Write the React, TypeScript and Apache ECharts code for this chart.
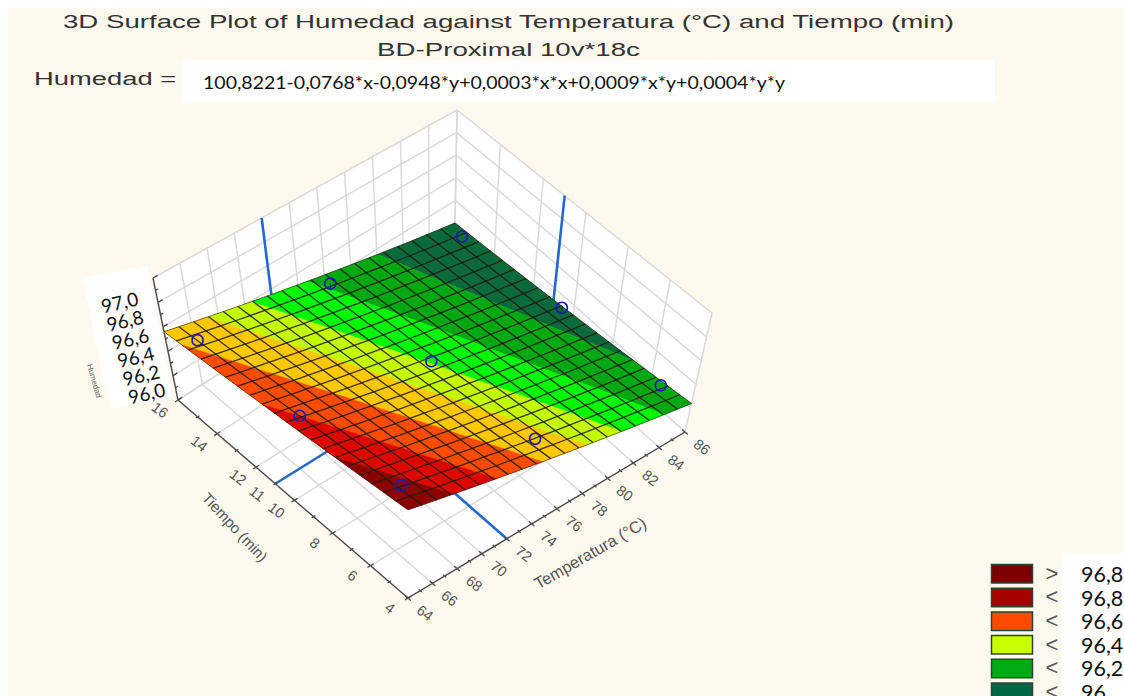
import React, { useEffect, useRef } from "react";
import * as echarts from "echarts";

const titleLines = ["3D Surface Plot of Humedad against Temperatura (°C) and Tiempo (min)", "BD-Proximal 10v*18c"];
const equationLabel = "Humedad =";
const equationText = "100,8221-0,0768*x-0,0948*y+0,0003*x*x+0,0009*x*y+0,0004*y*y";

const temperaturaTicks = [64, 66, 68, 70, 72, 74, 76, 78, 80, 82, 84, 86];
const temperaturaMinor = [65, 67, 69, 71, 73, 75, 77, 79, 81, 83, 85];
const tiempoTicks = [4, 6, 8, 10, 12, 14, 16];
const tiempoLabels = [4, 6, 8, 10, 11, 12, 14, 16];
const tiempoMinor = [5, 7, 9, 11, 13, 15];
const humedadTicks = [96.0, 96.2, 96.4, 96.6, 96.8, 97.0];
const humedadMinor = [96.1, 96.3, 96.5, 96.7, 96.9];
const humedadTickLabels = ["97,0", "96,8", "96,6", "96,4", "96,2", "96,0"];

const temperaturaGrid = [64, 65.1, 66.2, 67.3, 68.4, 69.5, 70.6, 71.7, 72.8, 73.9, 75, 76.1, 77.2, 78.3, 79.4, 80.5, 81.6, 82.7, 83.8, 84.9, 86];
const tiempoGrid = [4, 4.6, 5.2, 5.8, 6.4, 7, 7.6, 8.2, 8.8, 9.4, 10, 10.6, 11.2, 11.8, 12.4, 13, 13.6, 14.2, 14.8, 15.4, 16];

// Humedad: one row per Tiempo, one column per Temperatura.
const humedadColour = [
  [96.993,96.955,96.918,96.882,96.846,96.811,96.777,96.743,96.710,96.678,96.647,96.616,96.586,96.557,96.529,96.501,96.474,96.447,96.422,96.397,96.373],
  [96.973,96.936,96.899,96.863,96.828,96.794,96.760,96.727,96.695,96.663,96.633,96.602,96.573,96.545,96.517,96.489,96.463,96.437,96.412,96.388,96.365],
  [96.953,96.916,96.880,96.845,96.811,96.777,96.744,96.711,96.680,96.649,96.619,96.589,96.560,96.532,96.505,96.478,96.453,96.428,96.403,96.379,96.356],
  [96.933,96.897,96.862,96.827,96.793,96.760,96.728,96.696,96.665,96.634,96.605,96.576,96.548,96.520,96.494,96.468,96.442,96.418,96.394,96.371,96.349],
  [96.914,96.879,96.844,96.810,96.776,96.744,96.712,96.680,96.650,96.620,96.591,96.563,96.535,96.509,96.483,96.457,96.433,96.409,96.385,96.363,96.341],
  [96.895,96.860,96.826,96.792,96.760,96.727,96.696,96.666,96.636,96.607,96.578,96.550,96.523,96.497,96.472,96.447,96.423,96.400,96.377,96.355,96.334],
  [96.876,96.842,96.808,96.775,96.743,96.712,96.681,96.651,96.622,96.593,96.565,96.538,96.512,96.486,96.461,96.437,96.414,96.391,96.369,96.348,96.327],
  [96.858,96.824,96.791,96.758,96.727,96.696,96.666,96.637,96.608,96.580,96.553,96.526,96.500,96.475,96.451,96.427,96.405,96.382,96.361,96.340,96.320],
  [96.839,96.806,96.774,96.742,96.711,96.681,96.651,96.622,96.594,96.567,96.540,96.514,96.489,96.465,96.441,96.418,96.396,96.374,96.353,96.333,96.314],
  [96.821,96.789,96.757,96.726,96.696,96.666,96.637,96.609,96.581,96.554,96.528,96.503,96.478,96.455,96.431,96.409,96.387,96.366,96.346,96.327,96.308],
  [96.804,96.772,96.741,96.710,96.680,96.651,96.623,96.595,96.568,96.542,96.517,96.492,96.468,96.445,96.422,96.400,96.379,96.359,96.339,96.320,96.302],
  [96.786,96.755,96.724,96.694,96.665,96.637,96.609,96.582,96.556,96.530,96.505,96.481,96.458,96.435,96.413,96.392,96.371,96.352,96.333,96.314,96.297],
  [96.769,96.738,96.708,96.679,96.650,96.623,96.595,96.569,96.543,96.518,96.494,96.470,96.448,96.426,96.404,96.384,96.364,96.345,96.326,96.308,96.291],
  [96.752,96.722,96.693,96.664,96.636,96.609,96.582,96.556,96.531,96.507,96.483,96.460,96.438,96.417,96.396,96.376,96.356,96.338,96.320,96.303,96.286],
  [96.736,96.706,96.677,96.649,96.622,96.595,96.569,96.544,96.519,96.496,96.473,96.450,96.429,96.408,96.388,96.368,96.350,96.332,96.314,96.298,96.282],
  [96.720,96.691,96.662,96.635,96.608,96.582,96.557,96.532,96.508,96.485,96.462,96.441,96.420,96.399,96.380,96.361,96.343,96.325,96.309,96.293,96.278],
  [96.704,96.675,96.648,96.621,96.595,96.569,96.544,96.520,96.497,96.474,96.452,96.431,96.411,96.391,96.372,96.354,96.336,96.320,96.304,96.288,96.274],
  [96.688,96.660,96.633,96.607,96.581,96.556,96.532,96.509,96.486,96.464,96.443,96.422,96.402,96.383,96.365,96.347,96.330,96.314,96.299,96.284,96.270],
  [96.673,96.646,96.619,96.593,96.568,96.544,96.520,96.497,96.475,96.454,96.433,96.413,96.394,96.376,96.358,96.341,96.324,96.309,96.294,96.280,96.266],
  [96.658,96.631,96.605,96.580,96.556,96.532,96.509,96.487,96.465,96.444,96.424,96.405,96.386,96.368,96.351,96.335,96.319,96.304,96.290,96.276,96.263],
  [96.643,96.617,96.592,96.567,96.543,96.520,96.498,96.476,96.455,96.435,96.415,96.396,96.378,96.361,96.344,96.329,96.314,96.299,96.285,96.272,96.260],
];

// Height of the sheet read against the drawn Humedad axis, same layout.
const humedadHeight = [
  [96.700,96.677,96.654,96.631,96.608,96.585,96.562,96.539,96.516,96.493,96.470,96.447,96.424,96.401,96.378,96.355,96.332,96.309,96.286,96.263,96.240],
  [96.693,96.670,96.646,96.623,96.600,96.577,96.554,96.530,96.507,96.484,96.461,96.437,96.414,96.391,96.368,96.344,96.321,96.298,96.275,96.251,96.228],
  [96.686,96.663,96.639,96.616,96.592,96.569,96.545,96.522,96.498,96.475,96.451,96.428,96.404,96.381,96.357,96.334,96.310,96.287,96.263,96.240,96.216],
  [96.679,96.655,96.632,96.608,96.584,96.560,96.537,96.513,96.489,96.465,96.442,96.418,96.394,96.370,96.347,96.323,96.299,96.275,96.252,96.228,96.204],
  [96.672,96.648,96.624,96.600,96.576,96.552,96.528,96.504,96.480,96.456,96.432,96.408,96.384,96.360,96.336,96.312,96.288,96.264,96.240,96.216,96.192],
  [96.665,96.641,96.617,96.592,96.568,96.544,96.520,96.495,96.471,96.447,96.423,96.398,96.374,96.350,96.326,96.301,96.277,96.253,96.229,96.204,96.180],
  [96.658,96.634,96.609,96.585,96.560,96.536,96.511,96.487,96.462,96.438,96.413,96.389,96.364,96.340,96.315,96.291,96.266,96.242,96.217,96.193,96.168],
  [96.651,96.626,96.602,96.577,96.552,96.527,96.503,96.478,96.453,96.428,96.404,96.379,96.354,96.329,96.305,96.280,96.255,96.230,96.206,96.181,96.156],
  [96.644,96.619,96.594,96.569,96.544,96.519,96.494,96.469,96.444,96.419,96.394,96.369,96.344,96.319,96.294,96.269,96.244,96.219,96.194,96.169,96.144],
  [96.637,96.612,96.586,96.561,96.536,96.511,96.486,96.460,96.435,96.410,96.385,96.359,96.334,96.309,96.284,96.258,96.233,96.208,96.183,96.157,96.132],
  [96.630,96.605,96.579,96.554,96.528,96.503,96.477,96.452,96.426,96.401,96.375,96.350,96.324,96.299,96.273,96.248,96.222,96.197,96.171,96.146,96.120],
  [96.623,96.597,96.572,96.546,96.520,96.494,96.469,96.443,96.417,96.391,96.366,96.340,96.314,96.288,96.263,96.237,96.211,96.185,96.160,96.134,96.108],
  [96.616,96.590,96.564,96.538,96.512,96.486,96.460,96.434,96.408,96.382,96.356,96.330,96.304,96.278,96.252,96.226,96.200,96.174,96.148,96.122,96.096],
  [96.609,96.583,96.557,96.530,96.504,96.478,96.452,96.425,96.399,96.373,96.347,96.320,96.294,96.268,96.242,96.215,96.189,96.163,96.137,96.110,96.084],
  [96.602,96.576,96.549,96.523,96.496,96.470,96.443,96.417,96.390,96.364,96.337,96.311,96.284,96.258,96.231,96.205,96.178,96.152,96.125,96.099,96.072],
  [96.595,96.568,96.542,96.515,96.488,96.461,96.435,96.408,96.381,96.354,96.328,96.301,96.274,96.247,96.221,96.194,96.167,96.140,96.114,96.087,96.060],
  [96.588,96.561,96.534,96.507,96.480,96.453,96.426,96.399,96.372,96.345,96.318,96.291,96.264,96.237,96.210,96.183,96.156,96.129,96.102,96.075,96.048],
  [96.581,96.554,96.526,96.499,96.472,96.445,96.418,96.390,96.363,96.336,96.309,96.281,96.254,96.227,96.200,96.172,96.145,96.118,96.091,96.063,96.036],
  [96.574,96.547,96.519,96.492,96.464,96.437,96.409,96.382,96.354,96.327,96.299,96.272,96.244,96.217,96.189,96.162,96.134,96.107,96.079,96.052,96.024],
  [96.567,96.539,96.512,96.484,96.456,96.428,96.401,96.373,96.345,96.317,96.290,96.262,96.234,96.206,96.179,96.151,96.123,96.095,96.068,96.040,96.012],
  [96.560,96.532,96.504,96.476,96.448,96.420,96.392,96.364,96.336,96.308,96.280,96.252,96.224,96.196,96.168,96.140,96.112,96.084,96.056,96.028,96.000],
];

const bandLimits = [95, 96.335, 96.42, 96.5, 96.57, 96.665, 96.77, 96.875, 98];
const bandColours = ["#0a6a3a", "#00a812", "#00f800", "#c4fa00", "#ffc800", "#ff4c00", "#dc0800", "#8e0000"];

const markerTemperatura = [65, 75.3, 85, 65, 75, 85, 65, 75, 85];
const markerTiempo = [5, 5, 5, 10, 10, 10, 15, 15, 15];
const markerHumedad = [96.71, 96.48, 96.315, 96.62, 96.455, 96.25, 96.565, 96.395, 96.11];
const markerStem = [0, 0, 0, 0, 0, 0.05, 0, 0.06, 0];

const legendSymbols = [">", "<", "<", "<", "<", "<"];
const legendValues = ["96,8", "96,8", "96,6", "96,4", "96,2", "96"];
const legendColours = ["#7a0000", "#a80000", "#ff4a00", "#c8ff00", "#00aa14", "#006644"];

type P = [number, number];
function homography(p00: P, p10: P, p11: P, p01: P) {
  const dx1 = p10[0] - p11[0], dx2 = p01[0] - p11[0], sx = p00[0] - p10[0] + p11[0] - p01[0];
  const dy1 = p10[1] - p11[1], dy2 = p01[1] - p11[1], sy = p00[1] - p10[1] + p11[1] - p01[1];
  const det = dx1 * dy2 - dx2 * dy1;
  const g = (sx * dy2 - dx2 * sy) / det, h = (dx1 * sy - sx * dy1) / det;
  const a = p10[0] - p00[0] + g * p10[0], b = p01[0] - p00[0] + h * p01[0];
  const d = p10[1] - p00[1] + g * p10[1], e = p01[1] - p00[1] + h * p01[1];
  return (u: number, v: number): P => {
    const w = g * u + h * v + 1;
    return [(a * u + b * v + p00[0]) / w, (d * u + e * v + p00[1]) / w];
  };
}
const floorMap = homography([408, 598], [685, 432], [455, 223], [178, 400]);
const roofMap = homography([408, 472], [712, 313], [457, 110], [153, 278]);
function project(T: number, t: number, h: number): P {
  const u = (T - 64) / 22, v = (t - 4) / 12, w = h - 96;
  const f = floorMap(u, v), r = roofMap(u, v);
  return [f[0] + (r[0] - f[0]) * w, f[1] + (r[1] - f[1]) * w];
}

type V = { x: number; y: number; v: number };
function clipAbove(poly: V[], level: number, sign: number): V[] {
  const out: V[] = [];
  for (let k = 0; k < poly.length; k++) {
    const a = poly[k], b = poly[(k + 1) % poly.length];
    const ia = sign * (a.v - level) >= 0, ib = sign * (b.v - level) >= 0;
    if (ia) out.push(a);
    if (ia !== ib) {
      const s = (level - a.v) / (b.v - a.v);
      out.push({ x: a.x + (b.x - a.x) * s, y: a.y + (b.y - a.y) * s, v: level });
    }
  }
  return out;
}

const GRAY = "#dadada";
const AXIS = "#4a4a4a";
const INK = "#555555";

type Seg = [number, number, number, number, number, number];
const gridSegs: Seg[] = [
  ...temperaturaTicks.flatMap((T): Seg[] => [[T, 4, 96, T, 16, 96], [T, 16, 96, T, 16, 97]]),
  ...tiempoTicks.flatMap((t): Seg[] => [[64, t, 96, 86, t, 96], [86, t, 96, 86, t, 97]]),
  ...humedadTicks.flatMap((h): Seg[] => [[64, 16, h, 86, 16, h], [86, 16, h, 86, 4, h]]),
];
const crosshairSegs: Seg[] = [
  [64, 11, 96, 86, 11, 96], [72, 4, 96, 72, 16, 96], [72, 16, 96, 72, 16, 97], [86, 11, 96, 86, 11, 97],
];
const axisSegs: Seg[] = [
  [64, 4, 96, 86, 4, 96], [64, 4, 96, 64, 16, 96], [64, 16, 96, 64, 16, 97],
  ...temperaturaTicks.map((T): Seg => [T, 3.85, 96, T, 4.15, 96]),
  ...temperaturaMinor.map((T): Seg => [T, 3.92, 96, T, 4.08, 96]),
  ...tiempoTicks.map((t): Seg => [63.75, t, 96, 64.25, t, 96]),
  ...tiempoMinor.map((t): Seg => [63.85, t, 96, 64.15, t, 96]),
  ...humedadTicks.map((h): Seg => [64, 16, h, 64.35, 16, h]),
  ...humedadMinor.map((h): Seg => [64, 16, h, 64.2, 16, h]),
];
const walls: number[][][] = [
  [[64, 4, 96], [86, 4, 96], [86, 16, 96], [64, 16, 96]],
  [[64, 16, 96], [86, 16, 96], [86, 16, 97], [64, 16, 97]],
  [[86, 16, 96], [86, 4, 96], [86, 4, 97], [86, 16, 97]],
];

export default function App() {
  const ref = useRef<HTMLDivElement>(null);
  useEffect(() => {
    const chart = echarts.init(ref.current!, undefined, { renderer: "svg" });
    const segSeries = (name: string, segs: Seg[], stroke: string, width: number, z: number) => ({
      type: "custom", name, coordinateSystem: "cartesian2d", silent: true, clip: false, z,
      data: segs.map((s) => [s[0], s[1]]),
      renderItem: (params: any, api: any) => {
        const s = segs[params.dataIndex];
        const a = api.coord(project(s[0], s[1], s[2])), b = api.coord(project(s[3], s[4], s[5]));
        return { type: "line", shape: { x1: a[0], y1: a[1], x2: b[0], y2: b[1] }, style: { stroke, lineWidth: width } };
      },
    });
    const textSeries = (name: string, items: { text: string; p: P; size: number; rot: number }[], z: number) => ({
      type: "custom", name, coordinateSystem: "cartesian2d", silent: true, clip: false, z,
      data: items.map((it) => it.p),
      renderItem: (params: any, api: any) => {
        const it = items[params.dataIndex];
        const c = api.coord(it.p);
        return {
          type: "text", x: c[0], y: c[1], rotation: (it.rot * Math.PI) / 180,
          style: { text: it.text, fontFamily: "Liberation Sans", fontSize: it.size, fill: INK, align: "center", verticalAlign: "middle" },
        };
      },
    });
    const shift = (p: P, dx: number, dy: number): P => [p[0] + dx, p[1] + dy];
    const tickTexts = [
      ...temperaturaTicks.map((T) => ({ text: String(T), p: shift(project(T, 4, 96), 17, 15), size: 14.5, rot: -37 })),
      ...tiempoLabels.map((t) => ({ text: String(t), p: shift(project(64, t, 96), -18, 10), size: 14.5, rot: -37 })),
      { text: "Tiempo (min)", p: [235, 527] as P, size: 15, rot: -47 },
      { text: "Temperatura (°C)", p: [590, 553] as P, size: 16.5, rot: 30 },
    ];
    const cells: number[][] = [];
    for (let j = 0; j < 20; j++) for (let i = 0; i < 20; i++) cells.push([temperaturaGrid[i], tiempoGrid[j], humedadColour[j][i], i, j]);
    const meshLines: number[][] = [];
    for (let k = 0; k < 21; k++) { meshLines.push([temperaturaGrid[k], 4, 0, k]); meshLines.push([64, tiempoGrid[k], 1, k]); }

    const graphic: any[] = [
      { type: "rect", z: 0, shape: { x: 8, y: 8, width: 1116, height: 688 }, style: { fill: "#fef9ef" } },
      { type: "rect", z: 1, shape: { x: 182, y: 60, width: 813, height: 43 }, style: { fill: "#ffffff" } },
      { type: "polygon", z: 1, shape: { points: [[83, 278], [147, 266], [173, 397], [110, 409]] }, style: { fill: "#ffffff" } },
      { type: "rect", z: 1, shape: { x: 1062, y: 553, width: 62, height: 143 }, style: { fill: "#ffffff" } },
      ...titleLines.map((text, k) => ({
        type: "text", z: 50, x: 508.5, y: 22 + 28 * k, scaleX: 1.456, originX: 0, originY: 0,
        style: { text, fontFamily: "Liberation Sans", fontSize: 19, fill: "#333333", align: "center", verticalAlign: "middle" },
      })),
      {
        type: "text", z: 50, x: 34, y: 79, scaleX: 1.44,
        style: { text: equationLabel, fontFamily: "Liberation Sans", fontSize: 19, fill: "#333333", align: "left", verticalAlign: "middle" },
      },
      {
        type: "text", z: 50, x: 203, y: 82, scaleX: 1.084,
        style: { text: equationText, fontFamily: "Lato", fontSize: 18, fill: "#111111", align: "left", verticalAlign: "middle" },
      },
      ...humedadTickLabels.map((text, k) => ({
        type: "text", z: 50, x: 119.5 + 5.4 * k, y: 302 + 18.2 * k, rotation: (13 * Math.PI) / 180,
        style: { text, fontFamily: "Lato", fontSize: 19, fill: "#111111", align: "center", verticalAlign: "middle" },
      })),
      {
        type: "text", z: 50, x: 94, y: 381, rotation: (-74 * Math.PI) / 180,
        style: { text: "Humedad", fontFamily: "Liberation Sans", fontSize: 8, fill: "#666666", align: "center", verticalAlign: "middle" },
      },
      ...legendColours.map((fill, k) => ({
        type: "rect", z: 50, shape: { x: 991.5, y: 564.5 + 23.7 * k, width: 41, height: 18.5 }, style: { fill, stroke: "#33413a", lineWidth: 1.5 },
      })),
      ...legendSymbols.map((text, k) => ({
        type: "text", z: 50, x: 1052, y: 573 + 23.7 * k,
        style: { text, fontFamily: "Liberation Sans", fontSize: 22, fill: "#555555", align: "center", verticalAlign: "middle" },
      })),
      ...legendValues.map((text, k) => ({
        type: "text", z: 50, x: 1081, y: 574 + 23.6 * k,
        style: { text, fontFamily: "Lato", fontSize: 21.5, fill: "#111111", align: "left", verticalAlign: "middle" },
      })),
    ];

    chart.setOption({
      animation: false,
      backgroundColor: "#ffffff",
      grid: { left: 0, top: 0, right: 0, bottom: 0 },
      xAxis: { type: "value", min: 0, max: 1124, show: false },
      yAxis: { type: "value", min: 0, max: 696, inverse: true, show: false },
      graphic,
      series: [
        {
          type: "custom", name: "walls", coordinateSystem: "cartesian2d", silent: true, clip: false, z: 2,
          data: walls.map((w) => [w[0][0], w[0][1]]),
          renderItem: (params: any, api: any) => ({
            type: "polygon",
            shape: { points: walls[params.dataIndex].map((c) => api.coord(project(c[0], c[1], c[2]))) },
            style: { fill: "#ffffff" },
          }),
        },
        segSeries("grid", gridSegs, GRAY, 1.5, 3),
        segSeries("crosshair", crosshairSegs, "#2268cf", 2.6, 4),
        segSeries("axes", axisSegs, AXIS, 1.3, 5),
        {
          type: "custom", name: "surface", coordinateSystem: "cartesian2d", silent: true, clip: false, z: 6,
          data: cells,
          renderItem: (params: any, api: any) => {
            const c = cells[params.dataIndex];
            const i = c[3], j = c[4];
            const node = (a: number, b: number): V => {
              const q = api.coord(project(temperaturaGrid[a], tiempoGrid[b], humedadHeight[b][a]));
              return { x: q[0], y: q[1], v: humedadColour[b][a] };
            };
            const quad = [node(i, j), node(i + 1, j), node(i + 1, j + 1), node(i, j + 1)];
            const children: any[] = [];
            bandColours.forEach((fill, b) => {
              let poly = clipAbove(quad, bandLimits[b], 1);
              if (poly.length) poly = clipAbove(poly, bandLimits[b + 1], -1);
              if (poly.length > 2) {
                children.push({ type: "polygon", shape: { points: poly.map((p) => [p.x, p.y]) }, style: { fill, stroke: fill, lineWidth: 0.5 } });
              }
            });
            return { type: "group", children };
          },
        },
        {
          type: "custom", name: "mesh", coordinateSystem: "cartesian2d", silent: true, clip: false, z: 7,
          data: meshLines,
          renderItem: (params: any, api: any) => {
            const m = meshLines[params.dataIndex];
            const k = m[3], along = m[2] === 0;
            const points = temperaturaGrid.map((_, n) => {
              const a = along ? k : n, b = along ? n : k;
              return api.coord(project(temperaturaGrid[a], tiempoGrid[b], humedadHeight[b][a]));
            });
            const edge = k === 0 || k === 20;
            return { type: "polyline", shape: { points }, style: { fill: "none", stroke: "rgba(28,22,10,0.85)", lineWidth: edge ? 0.7 : 1.3 } };
          },
        },
        {
          type: "custom", name: "markers", coordinateSystem: "cartesian2d", silent: true, clip: false, z: 8,
          data: markerTemperatura.map((T, k) => [T, markerTiempo[k], markerHumedad[k]]),
          renderItem: (params: any, api: any) => {
            const k = params.dataIndex;
            const T = markerTemperatura[k], t = markerTiempo[k], h = markerHumedad[k];
            const c = api.coord(project(T, t, h)), s = api.coord(project(T, t, h - markerStem[k]));
            return {
              type: "group",
              children: [
                { type: "circle", shape: { cx: c[0], cy: c[1], r: 5.5 }, style: { fill: "none", stroke: "#1c1caa", lineWidth: 1.6 } },
                { type: "line", shape: { x1: c[0], y1: c[1], x2: s[0], y2: s[1] }, style: { stroke: "#1c1caa", lineWidth: 1 } },
              ],
            };
          },
        },
        textSeries("axis labels", tickTexts, 9),
      ],
    });
    return () => chart.dispose();
  }, []);
  return <div ref={ref} style={{ position: "absolute", left: 0, top: 0, width: 1124, height: 696, overflow: "hidden" }} />;
}
